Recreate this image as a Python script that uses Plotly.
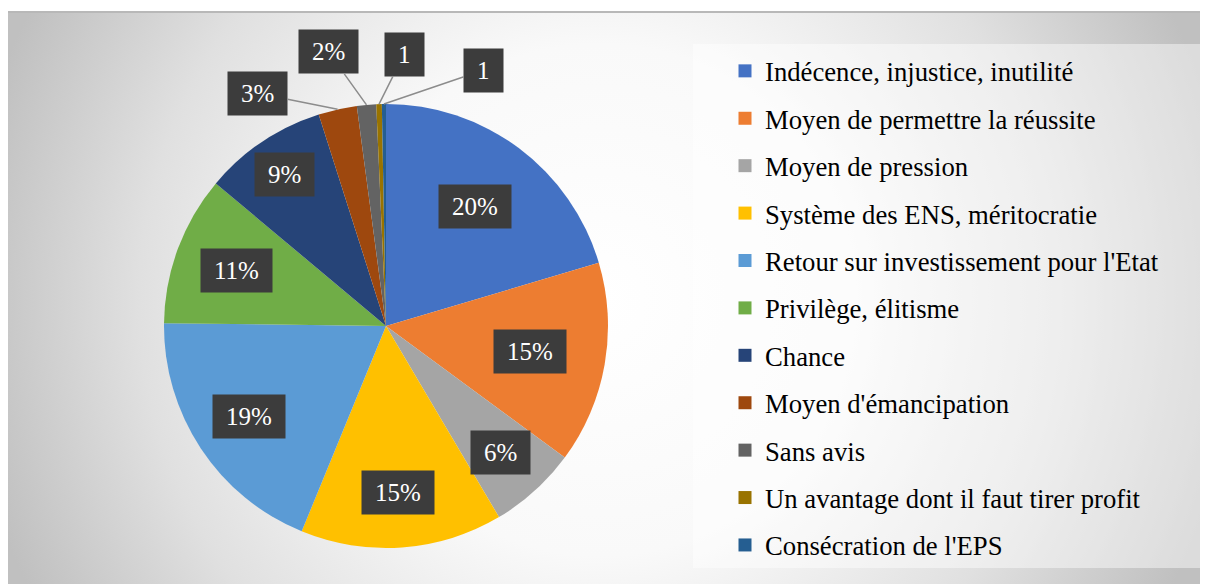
import base64
import math

import plotly.graph_objects as go

labels = [
    "Indécence, injustice, inutilité",
    "Moyen de permettre la réussite",
    "Moyen de pression",
    "Système des ENS, méritocratie",
    "Retour sur investissement pour l'Etat",
    "Privilège, élitisme",
    "Chance",
    "Moyen d'émancipation",
    "Sans avis",
    "Un avantage dont il faut tirer profit",
    "Consécration de l'EPS",
]
values = [20.4, 14.7, 6.4, 14.7, 19.0, 10.9, 9.0, 2.8, 1.4, 0.4, 0.3]
label_text = ["20%", "15%", "6%", "15%", "19%", "11%", "9%", "3%", "2%", "1", "1"]
colors = [
    "#4472C4", "#ED7D31", "#A5A5A5", "#FFC000", "#5B9BD5", "#70AD47",
    "#264478", "#9E480E", "#636363", "#997300", "#255E91",
]

# the page body adds an 8px margin, so the figure is 8px smaller each way
W, H = 1200, 576
CX, CY, R = 378, 318, 222

# where each label box sits: fraction of radius (inside) or pixel offset (outside)
label_radius = [0.67, 0.66, 0.77, 0.75, 0.74, 0.72, 0.82, 1.0, 1.0, 1.0, 1.0]
label_offset = {7: (-80, -16), 8: (-38, -53), 9: (25, -50), 10: (100, -34)}

bg_svg = f"""<svg xmlns='http://www.w3.org/2000/svg' width='{W}' height='{H}' viewBox='0 0 {W} {H}' preserveAspectRatio='none'>
<defs><radialGradient id='g' gradientUnits='userSpaceOnUse' cx='592' cy='292' r='640'>
<stop offset='0' stop-color='#ffffff'/><stop offset='0.4' stop-color='#f9f9f9'/>
<stop offset='0.72' stop-color='#e0e0e0'/><stop offset='1' stop-color='#c0c0c0'/>
</radialGradient></defs>
<rect x='0' y='0' width='{W}' height='{H}' fill='#ffffff'/>
<rect x='0' y='4' width='{W}' height='{H - 4}' fill='url(#g)'/>
<rect x='0' y='3' width='{W}' height='2' fill='#b8b8b8'/>
<rect x='685' y='36' width='{W - 685}' height='524' fill='#ffffff' fill-opacity='0.45'/>
</svg>"""
bg_uri = "data:image/svg+xml;base64," + base64.b64encode(bg_svg.encode()).decode()

fig = go.Figure()
fig.add_trace(
    go.Pie(
        labels=labels,
        values=values,
        sort=False,
        direction="clockwise",
        rotation=0,
        marker=dict(colors=colors, line=dict(width=0)),
        textinfo="none",
        showlegend=False,
        domain=dict(x=[(CX - R) / W, (CX + R) / W], y=[1 - (CY + R) / H, 1 - (CY - R) / H]),
    )
)

# legend entries, one group each so the gap can be set
for i, (name, color) in enumerate(zip(labels, colors)):
    fig.add_trace(
        go.Scatter(
            x=[None], y=[None], mode="markers", name=name, legendgroup=str(i),
            marker=dict(symbol="square", size=13, color=color),
        )
    )

annotations = []
total = sum(values)
cum = 0
for i, v in enumerate(values):
    mid = (cum + v / 2) / total * 2 * math.pi
    cum += v
    f = label_radius[i]
    px = CX + f * R * math.sin(mid)
    py = CY - f * R * math.cos(mid)
    ann = dict(
        x=px / W, y=1 - py / H, xref="paper", yref="paper",
        text="\u2009" + label_text[i] + "\u2009",
        font=dict(family="Liberation Serif", size=25, color="#ffffff"),
        bgcolor="#3c3c3c", borderpad=8,
    )
    if i in label_offset:
        ax, ay = label_offset[i]
        ann.update(showarrow=True, arrowhead=0, arrowwidth=1.5, arrowcolor="#8c8c8c",
                   ax=ax, ay=ay, standoff=0)
    else:
        ann.update(showarrow=False, xanchor="center", yanchor="middle")
    annotations.append(ann)

fig.update_layout(
    width=W, height=H,
    margin=dict(l=0, r=0, t=0, b=0),
    paper_bgcolor="#ffffff", plot_bgcolor="rgba(0,0,0,0)",
    xaxis=dict(visible=False), yaxis=dict(visible=False),
    images=[dict(source=bg_uri, xref="paper", yref="paper", x=0, y=1, sizex=1, sizey=1,
                 xanchor="left", yanchor="top", sizing="stretch", layer="below")],
    legend=dict(
        x=717 / W, y=1 - 39 / H, xanchor="left", yanchor="top",
        font=dict(family="Liberation Serif", size=26.7, color="#000000"),
        tracegroupgap=9.7, bgcolor="rgba(0,0,0,0)",
    ),
    annotations=annotations,
)

fig.write_html("out.html")
